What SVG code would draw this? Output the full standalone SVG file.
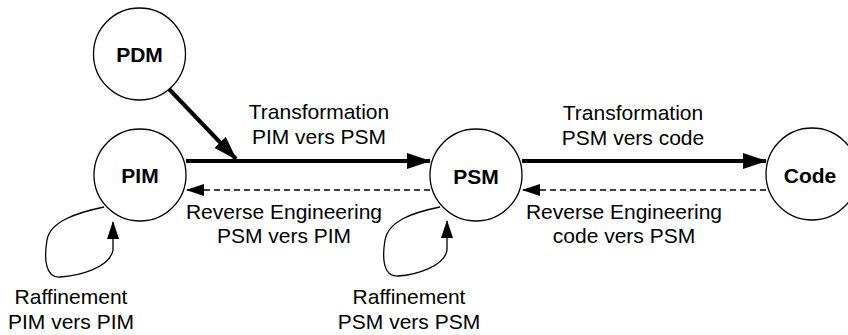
<svg xmlns="http://www.w3.org/2000/svg" width="848" height="335" viewBox="0 0 848 335">
<style>
.node{fill:#fff;stroke:#000;stroke-width:1.3}
.nl{font-family:"Liberation Sans",Arial,sans-serif;font-weight:bold;font-size:21px;text-anchor:middle}
.lb{font-family:"Liberation Sans",Arial,sans-serif;font-size:21px;text-anchor:middle}
.thick{stroke:#000;stroke-width:4;fill:none}
.dash{stroke:#000;stroke-width:1.3;fill:none;stroke-dasharray:6,4}
.loop{stroke:#000;stroke-width:1.3;fill:none}
</style>
<defs>
<marker id="ab" markerWidth="24" markerHeight="16" refX="23" refY="8" orient="auto" markerUnits="userSpaceOnUse"><path d="M0,0 L24,8 L0,16 Z" fill="#000"/></marker>
<marker id="as" markerWidth="18" markerHeight="12" refX="17" refY="6" orient="auto" markerUnits="userSpaceOnUse"><path d="M0,0 L18,6 L0,12 Z" fill="#000"/></marker>
</defs>
<rect width="848" height="335" fill="#fff"/>
<g id="connectors">
<line class="thick" x1="168" y1="88" x2="236" y2="159" marker-end="url(#ab)"/>
<line class="thick" x1="186" y1="161" x2="430" y2="161" marker-end="url(#ab)"/>
<line class="dash" x1="430" y1="190" x2="187" y2="190" marker-end="url(#as)"/>
<line class="thick" x1="522" y1="161" x2="766" y2="161" marker-end="url(#ab)"/>
<line class="dash" x1="766" y1="190" x2="523" y2="190" marker-end="url(#as)"/>
<path class="loop" d="M104,207 C75,213 50,222 47,240 C44,258 45,278 60,277 C78,276 110,268 113,250 L113,222" marker-end="url(#as)"/>
<path class="loop" d="M440,207 C410,213 388,222 385,240 C382,258 383,277 398,276 C416,275 445,266 447,250 L447,221" marker-end="url(#as)"/>
</g>
<g id="PDM"><circle class="node" cx="139.5" cy="54" r="46"/><text class="nl" x="139.5" y="62">PDM</text></g>
<g id="PIM"><circle class="node" cx="140" cy="175" r="46"/><text class="nl" x="140" y="183">PIM</text></g>
<g id="PSM"><circle class="node" cx="476" cy="175" r="46"/><text class="nl" x="476" y="184">PSM</text></g>
<g id="Code"><circle class="node" cx="812" cy="174" r="46"/><text class="nl" x="810" y="183">Code</text></g>
<g id="labels">
<text class="lb" x="319" y="119">Transformation</text>
<text class="lb" x="319" y="144">PIM vers PSM</text>
<text class="lb" x="633" y="120">Transformation</text>
<text class="lb" x="633" y="145">PSM vers code</text>
<text class="lb" x="284" y="219">Reverse Engineering</text>
<text class="lb" x="284" y="243">PSM vers PIM</text>
<text class="lb" x="624" y="219">Reverse Engineering</text>
<text class="lb" x="624" y="243">code vers PSM</text>
<text class="lb" x="71" y="304">Raffinement</text>
<text class="lb" x="71" y="329">PIM vers PIM</text>
<text class="lb" x="409" y="304">Raffinement</text>
<text class="lb" x="409" y="329">PSM vers PSM</text>
</g>
</svg>
